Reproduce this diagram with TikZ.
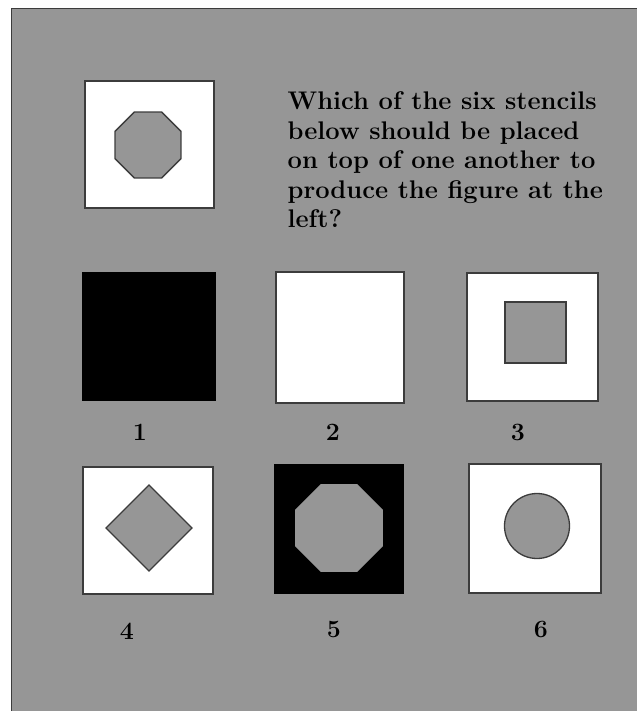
\documentclass[tikz,border=0pt]{standalone}
\usepackage{amsmath}
\usepackage{tikz}
\usetikzlibrary{shapes.geometric}
\definecolor{panel}{RGB}{150,150,150}
\definecolor{rim}{RGB}{60,60,60}

\begin{document}
\begin{tikzpicture}[x=1bp, y=-1bp, line width=1.3bp,
                    stencil/.style={draw=rim, fill=white},
                    solid/.style={draw=black, fill=black},
                    hole/.style={draw=rim, fill=panel},
                    lbl/.style={font=\fontsize{25}{28}\selectfont\bfseries, inner sep=0pt}]
  \useasboundingbox (0,0) rectangle (637,711);
  \fill[white] (0,0) rectangle (637,711);
  \fill[panel] (11.5,8.5) rectangle (645,720);
  \draw[rim, line width=1.6bp] (11.5,720) -- (11.5,8.5) -- (645,8.5);
  % the finished figure
  \draw[stencil] (85,81) rectangle (214,208);
  \draw[hole] (148,145) +(22.5:35.7) \foreach \a in {67.5,112.5,...,337.5}{ -- +(\a:35.7)} -- cycle;
  \node[anchor=north west, align=left, inner sep=0pt,
        font=\fontsize{25.6}{29.7}\selectfont\bfseries] (question) at (287,91)
       {Which of the six stencils\\below should be placed\\on top of one another to\\produce the figure at the\\left?};
  % stencils, first row
  \draw[solid] (83,273) rectangle (215,400);
  \draw[stencil] (276,272) rectangle (404,403);
  \draw[stencil] (467,273) rectangle (598,401);
  \draw[hole] (505,302) rectangle (566,363);
  % stencils, second row
  \draw[stencil] (83,467) rectangle (213,594);
  \draw[hole] (149,485) -- (192,528) -- (149,571) -- (106,528) -- cycle;
  \fill[black] (274,464) rectangle (404,594);
  \fill[panel] (339,528) +(22.5:47.6) \foreach \a in {67.5,112.5,...,337.5}{ -- +(\a:47.6)} -- cycle;
  \draw[stencil] (469,464) rectangle (601,593);
  \draw[hole] (537,526) circle (32.5);
  % numbers
  \node[lbl] (one)   at (140,432) {1};
  \node[lbl] (two)   at (333,432) {2};
  \node[lbl] (three) at (518,432) {3};
  \node[lbl] (four)  at (127,631) {4};
  \node[lbl] (five)  at (334,629) {5};
  \node[lbl] (six)   at (541,629) {6};
\end{tikzpicture}
\end{document}
